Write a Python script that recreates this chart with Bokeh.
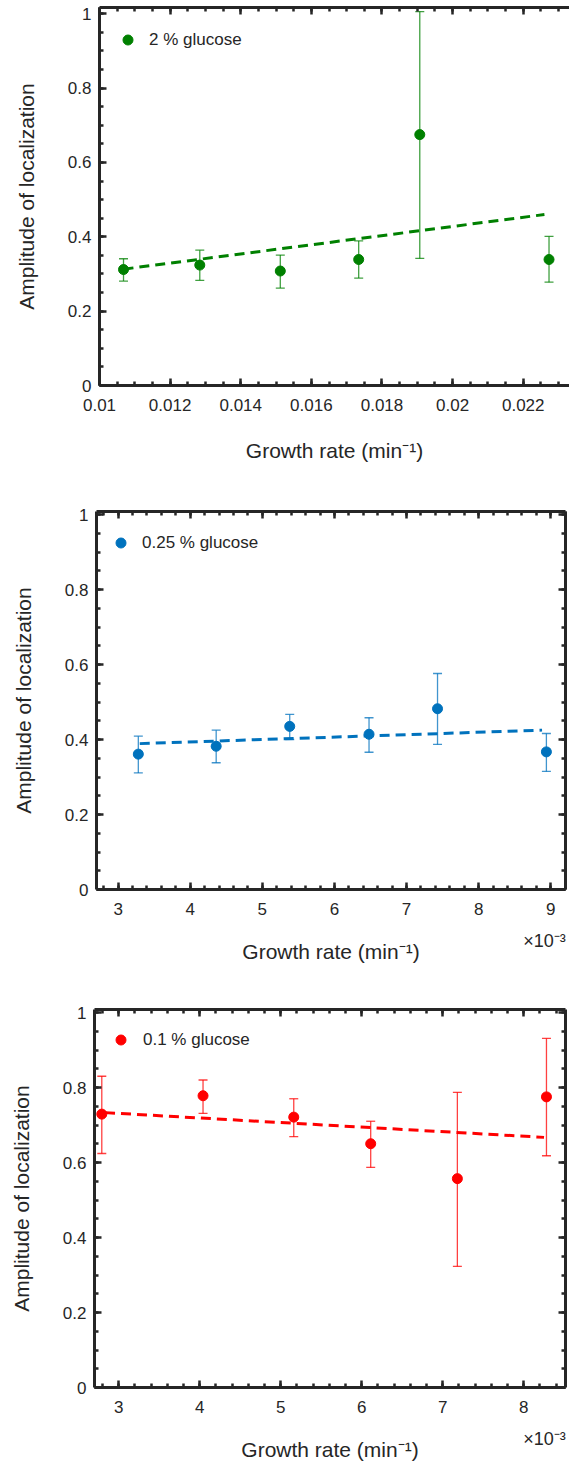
from bokeh.plotting import figure
from bokeh.layouts import column, row
from bokeh.models import (ColumnDataSource, Whisker, TeeHead, FixedTicker, LinearAxis, Range1d,
                          Legend, LegendItem, CustomJSTickFormatter, NumeralTickFormatter)
from bokeh.embed import file_html
from bokeh.resources import INLINE

# ---------------- data ----------------
# Panel 1: 2 % glucose (growth rate in min^-1)
g2_rate = [0.01068, 0.01284, 0.01512, 0.01734, 0.01907, 0.02273]
g2_amp = [0.312, 0.324, 0.308, 0.339, 0.675, 0.339]
g2_lo = [0.281, 0.283, 0.262, 0.289, 0.342, 0.278]
g2_hi = [0.341, 0.364, 0.351, 0.389, 1.006, 0.401]
g2_fit_rate = [0.01068, 0.02260]
g2_fit_amp = [0.313, 0.460]

# Panel 2: 0.25 % glucose (growth rate in 10^-3 min^-1)
g025_rate = [3.28, 4.36, 5.38, 6.48, 7.43, 8.94]
g025_amp = [0.361, 0.382, 0.435, 0.414, 0.482, 0.367]
g025_lo = [0.311, 0.338, 0.400, 0.366, 0.387, 0.315]
g025_hi = [0.409, 0.425, 0.467, 0.458, 0.576, 0.416]
g025_fit_rate = [3.30, 8.88]
g025_fit_amp = [0.389, 0.425]

# Panel 3: 0.1 % glucose (growth rate in 10^-3 min^-1)
g01_rate = [2.79, 4.04, 5.16, 6.11, 7.18, 8.28]
g01_amp = [0.729, 0.778, 0.721, 0.650, 0.557, 0.775]
g01_lo = [0.624, 0.731, 0.669, 0.587, 0.323, 0.618]
g01_hi = [0.830, 0.820, 0.770, 0.710, 0.787, 0.931]
g01_fit_rate = [2.83, 8.25]
g01_fit_amp = [0.733, 0.667]

y_ticks = [0, 0.2, 0.4, 0.6, 0.8, 1.0]
y_minor = [i * 0.05 for i in range(0, 21)]
p1_x_ticks = [0.010, 0.012, 0.014, 0.016, 0.018, 0.020, 0.022]
p1_x_minor = [0.010 + i * 0.0005 for i in range(0, 28)]
p2_x_ticks = [3, 4, 5, 6, 7, 8, 9]
p2_x_minor = [2.6 + i * 0.2 for i in range(0, 34)]
p3_x_ticks = [3, 4, 5, 6, 7, 8]
p3_x_minor = [2.6 + i * 0.2 for i in range(0, 31)]

X_TITLE = "Growth rate (min\u207b\u00b9)"
Y_TITLE = "Amplitude of localization"
EXPONENT = "\u00d710\u207b\u00b3"

FONT = "Liberation Sans"
INK = "#262626"


def style_axis(ax):
    ax.axis_line_width = 3
    ax.axis_line_color = INK
    ax.major_tick_line_color = INK
    ax.minor_tick_line_color = INK
    ax.major_tick_line_width = 2.5
    ax.minor_tick_line_width = 2.5
    ax.major_tick_in = 7
    ax.major_tick_out = 0
    ax.minor_tick_in = 4
    ax.minor_tick_out = 0
    ax.major_label_text_font = FONT
    ax.major_label_text_font_size = "17px"
    ax.major_label_text_color = INK
    ax.axis_label_text_font = FONT
    ax.axis_label_text_font_size = "21px"
    ax.axis_label_text_font_style = "normal"
    ax.axis_label_text_color = INK


def blank_axis(ticks, minor):
    ax = LinearAxis(ticker=FixedTicker(ticks=ticks, minor_ticks=minor),
                    formatter=CustomJSTickFormatter(code="return ''"))
    style_axis(ax)
    ax.major_label_text_font_size = "0px"
    ax.major_label_standoff = 0
    return ax


def make_panel(rate, amp, lo, hi, fit_rate, fit_amp, color, label,
               x_start, x_end, y_end, x_ticks, x_minor, x_fmt,
               left, frame_w, right, top, bottom,
               leg_vx, leg_vy, leg_standoff, with_right, exponent):
    p = figure(frame_width=frame_w, frame_height=378,
               x_range=Range1d(x_start, x_end), y_range=Range1d(0, y_end),
               output_backend="svg", toolbar_location=None,
               min_border_left=left, min_border_right=right,
               min_border_top=top, min_border_bottom=bottom,
               background_fill_color="white", border_fill_color="white")
    p.outline_line_color = None
    p.grid.visible = False

    xa = p.xaxis[0]
    xa.ticker = FixedTicker(ticks=x_ticks, minor_ticks=x_minor)
    xa.formatter = NumeralTickFormatter(format=x_fmt)
    style_axis(xa)
    xa.major_label_standoff = 13

    ya = p.yaxis[0]
    ya.ticker = FixedTicker(ticks=y_ticks, minor_ticks=y_minor)
    ya.formatter = NumeralTickFormatter(format="0.[0]")
    style_axis(ya)
    ya.axis_label = Y_TITLE
    ya.major_label_standoff = 8
    ya.axis_label_standoff = 27

    p.add_layout(blank_axis(x_ticks, x_minor), "above")
    if with_right:
        p.add_layout(blank_axis(y_ticks, y_minor), "right")

    if exponent:
        # second bottom axis: carries the x10^-3 multiplier and the axis title
        px_per_unit = frame_w / (x_end - x_start)
        ex = LinearAxis(ticker=FixedTicker(ticks=[x_end - 21.0 / px_per_unit], minor_ticks=[]),
                        formatter=CustomJSTickFormatter(code="return '%s'" % EXPONENT))
        style_axis(ex)
        ex.axis_line_color = None
        ex.major_tick_line_color = None
        ex.minor_tick_line_color = None
        ex.major_tick_in = 0
        ex.minor_tick_in = 0
        ex.major_label_text_font_size = "18px"
        ex.major_label_standoff = 13
        ex.axis_label = X_TITLE
        ex.axis_label_standoff = -14
        p.add_layout(ex, "below")
    else:
        xa.axis_label = X_TITLE
        xa.axis_label_standoff = 25

    src = ColumnDataSource(dict(x=rate, y=amp, lo=lo, hi=hi))
    head_kw = dict(size=9, line_color=color, line_alpha=0.75, line_width=1.3)
    p.add_layout(Whisker(source=src, base="x", upper="hi", lower="lo", dimension="height",
                         line_color=color, line_alpha=0.75, line_width=1.3,
                         upper_head=TeeHead(**head_kw), lower_head=TeeHead(**head_kw)))
    p.line(fit_rate, fit_amp, line_color=color, line_width=3, line_dash="10 6")
    r = p.scatter("x", "y", source=src, size=10, fill_color=color, line_color=color)

    legend = Legend(items=[LegendItem(label=label, renderers=[r])], location=(leg_vx, leg_vy),
                    padding=0, margin=0, spacing=0, border_line_color=None,
                    background_fill_alpha=0, glyph_width=25, glyph_height=25,
                    label_standoff=leg_standoff, label_text_font=FONT,
                    label_text_font_size="17px", label_text_color=INK)
    p.add_layout(legend)
    return p


p1 = make_panel(g2_rate, g2_amp, g2_lo, g2_hi, g2_fit_rate, g2_fit_amp, "#008000", "2 % glucose",
                0.010, 0.02331, 1.017, p1_x_ticks, p1_x_minor, "0.[000]",
                99, 470, 0, 7, 110, 16, 333, 9, False, False)
p2 = make_panel(g025_rate, g025_amp, g025_lo, g025_hi, g025_fit_rate, g025_fit_amp, "#0072BD",
                "0.25 % glucose", 2.70, 9.205, 1.008, p2_x_ticks, p2_x_minor, "0",
                96, 469, 4, 16, 101, 12, 334, 9, True, True)
p3 = make_panel(g01_rate, g01_amp, g01_lo, g01_hi, g01_fit_rate, g01_fit_amp, "#FF0000",
                "0.1 % glucose", 2.70, 8.515, 1.008, p3_x_ticks, p3_x_minor, "0",
                94, 471, 4, 19, 76, 14, 335, 10, True, True)

layout = column(row(p1), row(p2), row(p3))
open("out.html", "w").write(file_html(layout, INLINE))
